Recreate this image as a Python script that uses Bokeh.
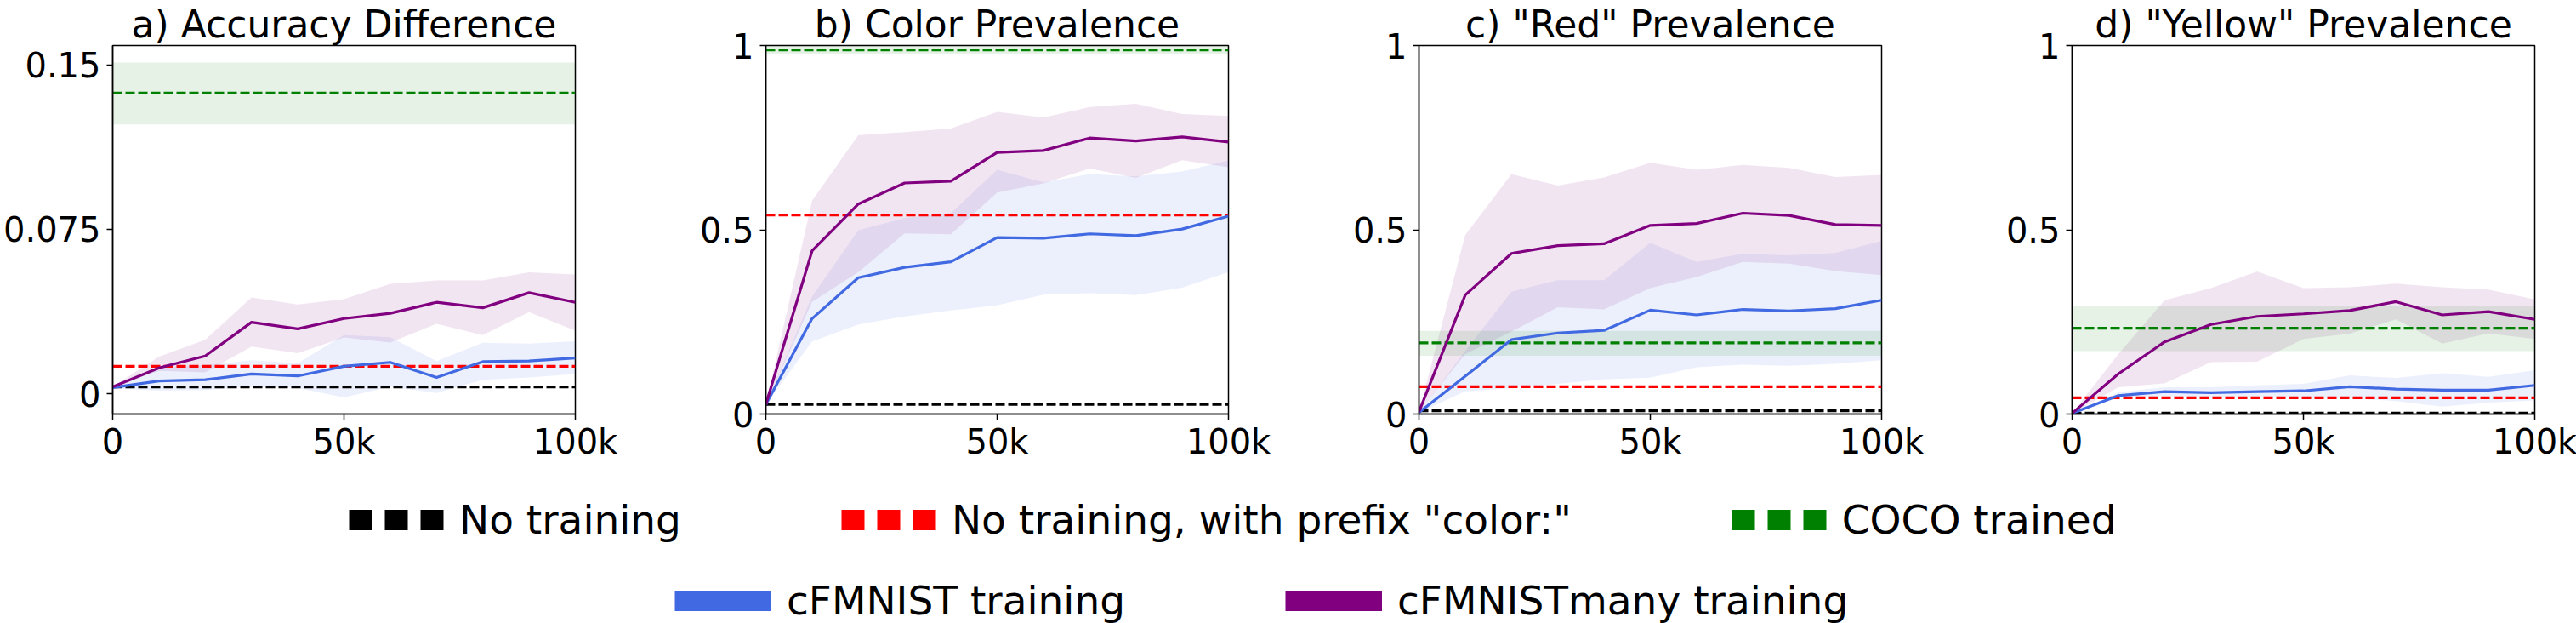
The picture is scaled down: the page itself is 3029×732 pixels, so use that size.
from bokeh.plotting import figure
from bokeh.layouts import row, column
from bokeh.models import (ColumnDataSource, Legend, LegendItem, Range1d,
                          FixedTicker, GlobalInlineStyleSheet)
from bokeh.embed import file_html
from bokeh.resources import INLINE

FONT = "DejaVu Sans"
NAN = float("nan")

# ---------------- data ----------------
steps = [0, 10000, 20000, 30000, 40000, 50000, 60000, 70000, 80000, 90000, 100000]

titles = ['a) Accuracy Difference', 'b) Color Prevalence',
          'c) "Red" Prevalence', 'd) "Yellow" Prevalence']

# a) Accuracy Difference
a_many = [0.0031, 0.0118, 0.0172, 0.0326, 0.0296, 0.0343, 0.0367, 0.0417, 0.0392, 0.0461, 0.0417]
a_many_hi = [0.0031, 0.0169, 0.0246, 0.0439, 0.0407, 0.0431, 0.0501, 0.0517, 0.0517, 0.0554, 0.0544]
a_many_lo = [0.0031, 0.0104, 0.0097, 0.0215, 0.0185, 0.0257, 0.0233, 0.0319, 0.0267, 0.0372, 0.0288]
a_cf = [0.0028, 0.0058, 0.0064, 0.0090, 0.0081, 0.0125, 0.0143, 0.0074, 0.0146, 0.0149, 0.0163]
a_cf_hi = [0.0030, 0.0121, 0.0130, 0.0153, 0.0139, 0.0267, 0.0258, 0.0149, 0.0232, 0.0228, 0.0239]
a_cf_lo = [0.0025, 0.0014, 0.0017, 0.0031, 0.0026, -0.0017, 0.0032, 0.0003, 0.0063, 0.0074, 0.0090]
a_none, a_prefix, a_coco, a_coco_lo, a_coco_hi = 0.0031, 0.0125, 0.1372, 0.1229, 0.1511

# b) Color Prevalence
b_many = [0.026, 0.443, 0.570, 0.627, 0.632, 0.710, 0.715, 0.749, 0.741, 0.752, 0.738]
b_many_hi = [0.026, 0.579, 0.757, 0.765, 0.775, 0.820, 0.805, 0.833, 0.842, 0.814, 0.809]
b_many_lo = [0.026, 0.304, 0.385, 0.490, 0.488, 0.601, 0.626, 0.666, 0.641, 0.689, 0.670]
b_cf = [0.026, 0.259, 0.370, 0.398, 0.413, 0.479, 0.477, 0.489, 0.484, 0.502, 0.537]
b_cf_hi = [0.026, 0.319, 0.499, 0.532, 0.545, 0.663, 0.629, 0.651, 0.645, 0.658, 0.688]
b_cf_lo = [0.026, 0.197, 0.243, 0.265, 0.281, 0.295, 0.324, 0.328, 0.323, 0.343, 0.385]
b_none, b_prefix, b_coco, b_coco_lo, b_coco_hi = 0.026, 0.540, 0.988, 0.978, 0.998

# c) "Red" Prevalence
c_many = [0.006, 0.323, 0.436, 0.457, 0.462, 0.512, 0.517, 0.545, 0.539, 0.514, 0.512]
c_many_hi = [0.006, 0.486, 0.651, 0.620, 0.642, 0.682, 0.663, 0.676, 0.668, 0.643, 0.649]
c_many_lo = [0.006, 0.163, 0.224, 0.290, 0.284, 0.342, 0.372, 0.413, 0.408, 0.388, 0.377]
c_cf = [0.004, 0.103, 0.202, 0.220, 0.227, 0.282, 0.269, 0.284, 0.280, 0.286, 0.309]
c_cf_hi = [0.004, 0.171, 0.332, 0.363, 0.363, 0.465, 0.413, 0.435, 0.431, 0.437, 0.470]
c_cf_lo = [0.004, 0.062, 0.070, 0.082, 0.094, 0.099, 0.127, 0.134, 0.131, 0.136, 0.146]
c_none, c_prefix, c_coco, c_coco_lo, c_coco_hi = 0.009, 0.074, 0.193, 0.158, 0.226

# d) "Yellow" Prevalence
d_many = [0.002, 0.109, 0.196, 0.243, 0.265, 0.272, 0.281, 0.305, 0.269, 0.278, 0.257]
d_many_hi = [0.002, 0.163, 0.309, 0.342, 0.387, 0.342, 0.344, 0.354, 0.344, 0.338, 0.311]
d_many_lo = [0.002, 0.073, 0.083, 0.141, 0.142, 0.204, 0.218, 0.257, 0.191, 0.219, 0.204]
d_cf = [0.002, 0.050, 0.061, 0.058, 0.061, 0.063, 0.074, 0.068, 0.065, 0.065, 0.078]
d_cf_hi = [0.002, 0.059, 0.073, 0.073, 0.078, 0.082, 0.105, 0.098, 0.111, 0.101, 0.119]
d_cf_lo = [0.002, 0.045, 0.049, 0.043, 0.045, 0.043, 0.043, 0.035, 0.020, 0.031, 0.037]
d_none, d_prefix, d_coco, d_coco_lo, d_coco_hi = 0.0025, 0.044, 0.233, 0.171, 0.294

x_ticks = [0, 50000, 100000]
x_tick_labels = ["0", "50k", "100k"]
a_y_ticks = [0, 0.075, 0.15]
a_y_tick_labels = ["0", "0.075", "0.15"]
p_y_ticks = [0, 0.5, 1]
p_y_tick_labels = ["0", "0.5", "1"]

legend_row1 = ["No training", 'No training, with prefix "color:"', "COCO trained"]
legend_row2 = ["cFMNIST training", "cFMNISTmany training"]

BLUE = "#4169E1"
PURPLE = "#800080"
GREEN = "#008000"
RED = "#FF0000"
BLACK = "#000000"

panels = [
    dict(title=titles[0], many=a_many, many_hi=a_many_hi, many_lo=a_many_lo,
         cf=a_cf, cf_hi=a_cf_hi, cf_lo=a_cf_lo, none=a_none, prefix=a_prefix,
         coco=a_coco, coco_lo=a_coco_lo, coco_hi=a_coco_hi,
         yr=(-0.0093, 0.1589), yt=a_y_ticks, ytl=a_y_tick_labels),
    dict(title=titles[1], many=b_many, many_hi=b_many_hi, many_lo=b_many_lo,
         cf=b_cf, cf_hi=b_cf_hi, cf_lo=b_cf_lo, none=b_none, prefix=b_prefix,
         coco=b_coco, coco_lo=b_coco_lo, coco_hi=b_coco_hi,
         yr=(0, 1), yt=p_y_ticks, ytl=p_y_tick_labels),
    dict(title=titles[2], many=c_many, many_hi=c_many_hi, many_lo=c_many_lo,
         cf=c_cf, cf_hi=c_cf_hi, cf_lo=c_cf_lo, none=c_none, prefix=c_prefix,
         coco=c_coco, coco_lo=c_coco_lo, coco_hi=c_coco_hi,
         yr=(0, 1), yt=p_y_ticks, ytl=p_y_tick_labels),
    dict(title=titles[3], many=d_many, many_hi=d_many_hi, many_lo=d_many_lo,
         cf=d_cf, cf_hi=d_cf_hi, cf_lo=d_cf_lo, none=d_none, prefix=d_prefix,
         coco=d_coco, coco_lo=d_coco_lo, coco_hi=d_coco_hi,
         yr=(0, 1), yt=p_y_ticks, ytl=p_y_tick_labels),
]

FW, FH = 544, 433
LEFT = 130
TOP = 52
LW = 3.2
DASH = "11 4"

figs = []
for i, pd in enumerate(panels):
    right = 94 if i < 3 else 50
    p = figure(frame_width=FW, frame_height=FH, min_border_left=LEFT,
               min_border_right=right, min_border_top=TOP, min_border_bottom=63,
               x_range=Range1d(steps[0], steps[-1]), y_range=Range1d(*pd["yr"]),
               output_backend="svg", toolbar_location=None, title=pd["title"])
    p.title.align = "center"
    p.title.text_font = FONT
    p.title.text_font_size = "44px"
    p.title.text_font_style = "normal"
    p.title.text_color = BLACK
    p.title.standoff = 0
    p.xgrid.visible = False
    p.ygrid.visible = False
    p.outline_line_color = BLACK
    p.outline_line_width = 1.5
    p.background_fill_color = "white"
    p.border_fill_color = "white"

    src = ColumnDataSource(dict(x=steps, many=pd["many"], many_hi=pd["many_hi"],
                                many_lo=pd["many_lo"], cf=pd["cf"], cf_hi=pd["cf_hi"],
                                cf_lo=pd["cf_lo"]))
    band_src = ColumnDataSource(dict(x=[steps[0], steps[-1]],
                                     lo=[pd["coco_lo"]] * 2, hi=[pd["coco_hi"]] * 2))

    # shaded bands
    p.varea(x="x", y1="cf_lo", y2="cf_hi", source=src, fill_color=BLUE, fill_alpha=0.1)
    p.varea(x="x", y1="many_lo", y2="many_hi", source=src, fill_color=PURPLE, fill_alpha=0.1)
    p.varea(x="x", y1="lo", y2="hi", source=band_src, fill_color=GREEN, fill_alpha=0.1)

    # horizontal reference lines
    for val, col in ((pd["none"], BLACK), (pd["prefix"], RED), (pd["coco"], GREEN)):
        hs = ColumnDataSource(dict(x=[steps[0], steps[-1]], y=[val, val]))
        p.line(x="x", y="y", source=hs, line_color=col, line_width=LW, line_dash=DASH)

    # training curves
    p.line(x="x", y="cf", source=src, line_color=BLUE, line_width=LW)
    p.line(x="x", y="many", source=src, line_color=PURPLE, line_width=LW)

    for ax in (p.xaxis[0], p.yaxis[0]):
        ax.axis_line_color = BLACK
        ax.axis_line_width = 1.5
        ax.major_tick_line_color = BLACK
        ax.major_tick_line_width = 1.5
        ax.major_tick_out = 7
        ax.major_tick_in = 0
        ax.minor_tick_line_color = None
        ax.major_label_text_font = FONT
        ax.major_label_text_font_size = "40px"
        ax.major_label_text_color = BLACK
        ax.axis_label = None
    p.xaxis.ticker = FixedTicker(ticks=x_ticks)
    p.xaxis.major_label_overrides = {t: l for t, l in zip(x_ticks, x_tick_labels)}
    p.xaxis.major_label_standoff = 2
    p.yaxis.ticker = FixedTicker(ticks=pd["yt"])
    p.yaxis.major_label_overrides = {t: l for t, l in zip(pd["yt"], pd["ytl"])}
    p.yaxis.major_label_standoff = 7

    figs.append(p)

# ---------------- legend figure ----------------
leg = figure(width=3028, height=184, x_range=Range1d(0, 1), y_range=Range1d(0, 1),
             output_backend="svg", toolbar_location=None, min_border=0,
             x_axis_type=None, y_axis_type=None)
leg.xgrid.visible = False
leg.ygrid.visible = False
leg.outline_line_color = None

empty = dict(x=[NAN, NAN], y=[NAN, NAN])
r_none = leg.line(x=empty["x"], y=empty["y"], line_color=BLACK, line_width=24,
                  line_dash="27 15", line_cap="butt")
r_pref = leg.line(x=empty["x"], y=empty["y"], line_color=RED, line_width=24,
                  line_dash="27 15", line_cap="butt")
r_coco = leg.line(x=empty["x"], y=empty["y"], line_color=GREEN, line_width=24,
                  line_dash="27 15", line_cap="butt")
r_cf = leg.line(x=empty["x"], y=empty["y"], line_color=BLUE, line_width=24, line_cap="butt")
r_many = leg.line(x=empty["x"], y=empty["y"], line_color=PURPLE, line_width=24, line_cap="butt")


def make_legend(items, loc, glyph_w):
    return Legend(items=items, location=loc, orientation="horizontal",
                  glyph_width=glyph_w, glyph_height=55, label_standoff=18, spacing=188,
                  padding=0, margin=0, border_line_color=None, background_fill_alpha=0,
                  label_text_font=FONT, label_text_font_size="47px", label_text_color=BLACK)


leg1 = make_legend([LegendItem(label=legend_row1[0], renderers=[r_none]),
                    LegendItem(label=legend_row1[1], renderers=[r_pref]),
                    LegendItem(label=legend_row1[2], renderers=[r_coco])], (410, 95), 112)
leg2 = make_legend([LegendItem(label=legend_row2[0], renderers=[r_cf]),
                    LegendItem(label=legend_row2[1], renderers=[r_many])], (793, 0), 114)
leg.add_layout(leg1, "center")
leg.add_layout(leg2, "center")

layout = column(row(*figs), leg,
                stylesheets=[GlobalInlineStyleSheet(css="html, body { margin: 0; padding: 0; }")])

open("out.html", "w").write(file_html(layout, INLINE))
